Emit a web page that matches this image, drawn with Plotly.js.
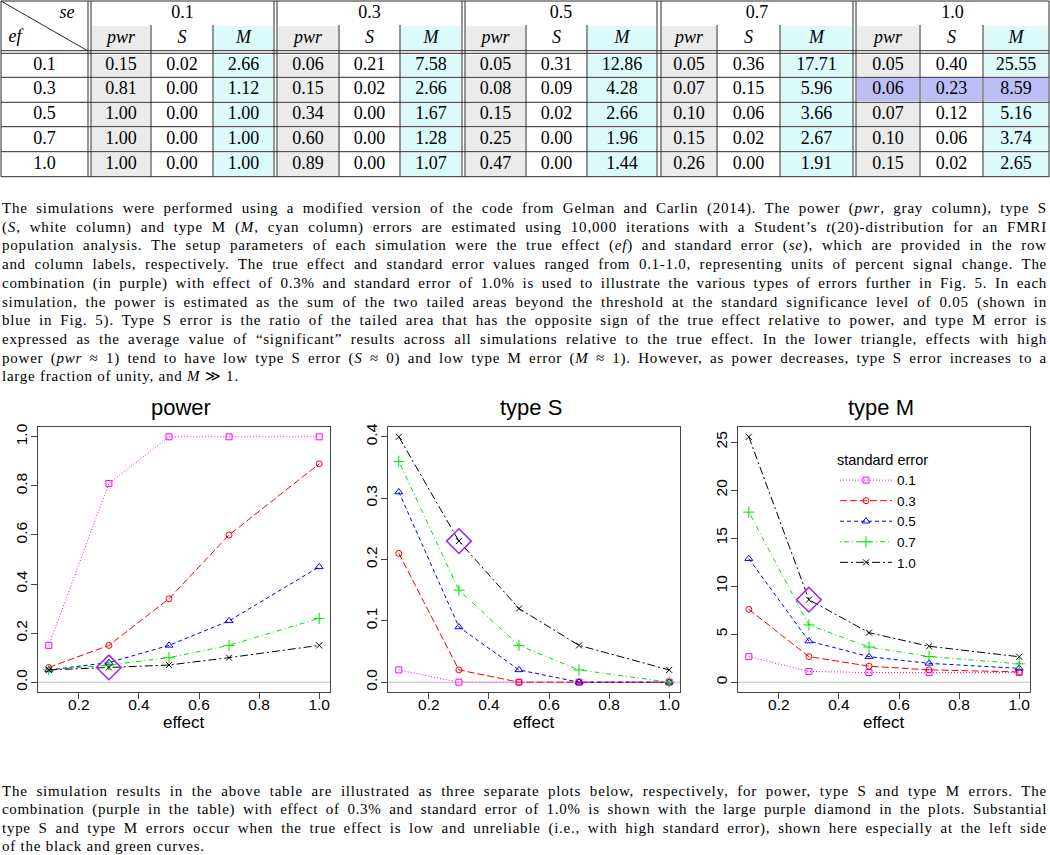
<!DOCTYPE html>
<html>
<head>
<meta charset="utf-8">
<script src="https://cdn.plot.ly/plotly-3.0.1.min.js"></script>
<style>
  body { margin: 0; background: #fff; }
  #wrap { position: relative; width: 1050px; height: 855px; overflow: hidden; }
  #plot { position: absolute; left: 0; top: 0; width: 1050px; height: 855px; }
  .para { position: absolute; left: 2px; width: 1045px; font-family: "Liberation Serif", serif; font-size: 15px; color: #000; }
  .ln { display: block; width: 1045px; text-align: justify; text-align-last: justify; white-space: nowrap; }
  .ln.last { text-align-last: left; }
  #p1 .ln { height: 18.72px; line-height: 18.72px; }
  #p2 .ln { height: 18.33px; line-height: 18.33px; }
</style>
</head>
<body>
<div id="wrap">
  <div id="plot"></div>
  <div class="para" id="p1" style="top:199px">
    <div class="ln"><span>The simulations were performed using a modified version of the code from Gelman and Carlin (2014). The power (<i>pwr</i>, gray column), type S</span></div>
    <div class="ln"><span>(<i>S</i>, white column) and type M (<i>M</i>, cyan column) errors are estimated using 10,000 iterations with a Student’s <i>t</i>(20)-distribution for an FMRI</span></div>
    <div class="ln"><span>population analysis. The setup parameters of each simulation were the true effect (<i>ef</i>) and standard error (<i>se</i>), which are provided in the row</span></div>
    <div class="ln"><span>and column labels, respectively. The true effect and standard error values ranged from 0.1-1.0, representing units of percent signal change. The</span></div>
    <div class="ln"><span>combination (in purple) with effect of 0.3% and standard error of 1.0% is used to illustrate the various types of errors further in Fig. 5. In each</span></div>
    <div class="ln"><span>simulation, the power is estimated as the sum of the two tailed areas beyond the threshold at the standard significance level of 0.05 (shown in</span></div>
    <div class="ln"><span>blue in Fig. 5). Type S error is the ratio of the tailed area that has the opposite sign of the true effect relative to power, and type M error is</span></div>
    <div class="ln"><span>expressed as the average value of “significant” results across all simulations relative to the true effect. In the lower triangle, effects with high</span></div>
    <div class="ln"><span>power (<i>pwr</i> ≈ 1) tend to have low type S error (<i>S</i> ≈ 0) and low type M error (<i>M</i> ≈ 1). However, as power decreases, type S error increases to a</span></div>
    <div class="ln last"><span>large fraction of unity, and <i>M</i> ≫ 1.</span></div>
  </div>
  <div class="para" id="p2" style="top:782px">
    <div class="ln"><span>The simulation results in the above table are illustrated as three separate plots below, respectively, for power, type S and type M errors. The</span></div>
    <div class="ln"><span>combination (purple in the table) with effect of 0.3% and standard error of 1.0% is shown with the large purple diamond in the plots. Substantial</span></div>
    <div class="ln"><span>type S and type M errors occur when the true effect is low and unreliable (i.e., with high standard error), shown here especially at the left side</span></div>
    <div class="ln last"><span>of the black and green curves.</span></div>
  </div>
</div>
<script>
// ---------------- DATA ----------------
const effects  = [0.1, 0.3, 0.5, 0.7, 1.0];
const efLabels = ['0.1', '0.3', '0.5', '0.7', '1.0'];
const seLabels = ['0.1', '0.3', '0.5', '0.7', '1.0'];
const colHeads = ['pwr', 'S', 'M'];
// values indexed [standard error][effect]
const power = [
  [0.15, 0.81, 1.00, 1.00, 1.00],
  [0.06, 0.15, 0.34, 0.60, 0.89],
  [0.05, 0.08, 0.15, 0.25, 0.47],
  [0.05, 0.07, 0.10, 0.15, 0.26],
  [0.05, 0.06, 0.07, 0.10, 0.15]
];
const typeS = [
  [0.02, 0.00, 0.00, 0.00, 0.00],
  [0.21, 0.02, 0.00, 0.00, 0.00],
  [0.31, 0.09, 0.02, 0.00, 0.00],
  [0.36, 0.15, 0.06, 0.02, 0.00],
  [0.40, 0.23, 0.12, 0.06, 0.02]
];
const typeM = [
  [2.66, 1.12, 1.00, 1.00, 1.00],
  [7.58, 2.66, 1.67, 1.28, 1.07],
  [12.86, 4.28, 2.66, 1.96, 1.44],
  [17.71, 5.96, 3.66, 2.67, 1.91],
  [25.55, 8.59, 5.16, 3.74, 2.65]
];
const highlightSe = 4;   // se = 1.0
const highlightEf = 1;   // ef = 0.3
const plotTitles = ['power', 'type S', 'type M'];

(function () {
// ---------------- STYLE / GEOMETRY ----------------
const W = 1050, H = 855;
const serif = 'Liberation Serif, Times New Roman, serif';
const sans = 'Liberation Sans, Arial, sans-serif';
const seColors = ['#FF00FF', '#FF0000', '#0000FF', '#00E000', '#000000'];
const seDash = ['1px,2px', '7px,3px', '4px,3px', '1px,3px,5px,3px', '8px,3px,2px,3px'];
const seSymbols = ['square-open', 'circle-open', 'triangle-up-open', 'cross-thin-open', 'x-thin-open'];
const seSizes = [6, 6, 7, 8, 6];
const cellColors = { white: '#FFFFFF', gray: '#EBEBEB', cyan: '#DCFAFA', purple: '#BDBDF5' };

// table geometry in pixel units (table axis spans pixels 0..1050 x 0..180)
const groupEdges = [[91,151,213,274],[277,339,400,462],[465,526,587,657],[661,717,780,853],[856,920,983,1049]];
const labelCol = [1, 88];
const rowEdges = [53.5, 77.3, 102.3, 126.7, 151.7, 176.7];
const headRow1 = [1, 25], headRow2 = [25, 51];
const tableH = 180;

// ---------------- TABLE ----------------
const traces = [];
const xEdges = [];
groupEdges.forEach(g => g.forEach(e => xEdges.push(e)));
const yEdges = [headRow2[0], headRow2[1], rowEdges[0]].concat(rowEdges.slice(1));
// z codes: 0 white, 1 gray, 2 cyan, 3 purple
const baseCodes = [1, 0, 2];
function rowCodes(rowIdx) { // rowIdx: -1 header, null gap, else effect index
  const r = [];
  groupEdges.forEach((g, gi) => {
    for (let c = 0; c < 3; c++) {
      if (rowIdx === null) r.push(null);
      else if (rowIdx === highlightEf && gi === highlightSe) r.push(3);
      else r.push(baseCodes[c]);
    }
    if (gi < groupEdges.length - 1) r.push(null);
  });
  return r;
}
const z = [rowCodes(-1), rowCodes(null)];
efLabels.forEach((_, i) => z.push(rowCodes(i)));
traces.push({
  type: 'heatmap', x: xEdges, y: yEdges, z: z, xaxis: 'x4', yaxis: 'y4',
  zmin: 0, zmax: 3, showscale: false, hoverinfo: 'skip', xgap: 2, ygap: 2,
  colorscale: [[0, cellColors.white], [0.1667, cellColors.white], [0.1667, cellColors.gray], [0.5, cellColors.gray],
               [0.5, cellColors.cyan], [0.8333, cellColors.cyan], [0.8333, cellColors.purple], [1, cellColors.purple]]
});

const tx = [], ty = [], tt = [];
const mid = (a, b) => (a + b) / 2;
const rowMid = i => mid(rowEdges[i], rowEdges[i + 1]);
tx.push(67); ty.push(13); tt.push('<i>se</i>');
tx.push(15); ty.push(37); tt.push('<i>ef</i>');
efLabels.forEach((lab, i) => { tx.push(mid(labelCol[0], labelCol[1])); ty.push(rowMid(i)); tt.push(lab); });
const metrics = [power, typeS, typeM];
groupEdges.forEach((g, gi) => {
  tx.push(mid(g[0], g[3])); ty.push(mid(headRow1[0], headRow1[1]) + 0.5); tt.push(seLabels[gi]);
  for (let c = 0; c < 3; c++) {
    const cx = mid(g[c], g[c + 1]);
    tx.push(cx); ty.push(mid(headRow2[0], headRow2[1])); tt.push('<i>' + colHeads[c] + '</i>');
    efLabels.forEach((_, ei) => {
      tx.push(cx); ty.push(rowMid(ei)); tt.push(metrics[c][gi][ei].toFixed(2));
    });
  }
});
traces.push({
  type: 'scatter', mode: 'text', x: tx, y: ty, text: tt, xaxis: 'x4', yaxis: 'y4',
  textposition: 'middle center', hoverinfo: 'skip', showlegend: false,
  textfont: { family: serif, size: 18, color: '#000' }
});

const shapes = [];
const tl = (x0, y0, x1, y1, w) => shapes.push({ type: 'line', xref: 'x4', yref: 'y4', x0, y0, x1, y1, line: { color: '#2a2a2a', width: w || 1 } });
const tTop = 1, tBot = rowEdges[rowEdges.length - 1], tLeft = 1, tRight = 1049;
tl(tLeft, tTop, tRight, tTop); tl(tLeft, tBot, tRight, tBot);
tl(tLeft, tTop, tLeft, tBot); tl(tRight, tTop, tRight, tBot);
tl(tLeft, 50.7, tRight, 50.7); tl(tLeft, 53.3, tRight, 53.3);
rowEdges.slice(1, -1).forEach(y => tl(tLeft, y, tRight, y));
tl(88, tTop, 88, tBot); tl(91, tTop, 91, tBot);
groupEdges.forEach((g, gi) => {
  if (gi < groupEdges.length - 1) { tl(g[3], tTop, g[3], tBot); tl(groupEdges[gi + 1][0], tTop, groupEdges[gi + 1][0], tBot); }
  tl(g[1], headRow2[0], g[1], tBot); tl(g[2], headRow2[0], g[2], tBot);
});
tl(1, 1, 88, 51);

// ---------------- PLOTS ----------------
const plotX = [[38, 330], [388, 680], [738, 1030]];
const plotY = [427, 692];
const yRanges = [[-0.04, 1.04], [-0.016, 0.416], [-1.022, 26.572]];
const yTicks = [[0, 0.2, 0.4, 0.6, 0.8, 1.0], [0, 0.1, 0.2, 0.3, 0.4], [0, 5, 10, 15, 20, 25]];
const yFmt = ['.1f', '.1f', 'd'];
const annotations = [];
const layout = {
  width: W, height: H, margin: { l: 0, r: 0, t: 0, b: 0 },
  paper_bgcolor: '#fff', plot_bgcolor: 'rgba(0,0,0,0)', showlegend: true,
  xaxis4: { domain: [0, 1], range: [0, W], visible: false, fixedrange: true },
  yaxis4: { domain: [1 - tableH / H, 1], range: [tableH, 0], visible: false, fixedrange: true },
  legend: {
    x: 835 / W, y: 1 - 446 / H, xanchor: 'left', yanchor: 'top', bgcolor: 'rgba(0,0,0,0)',
    font: { family: sans, size: 13.5, color: '#000' }, itemwidth: 52, tracegroupgap: 0,
    title: { text: 'standard error', font: { family: sans, size: 14.5, color: '#000' } }
  },
  shapes: shapes, annotations: annotations
};

metrics.forEach((m, k) => {
  const ax = k === 0 ? '' : String(k + 1);
  const xa = 'xaxis' + ax, ya = 'yaxis' + ax;
  layout[xa] = {
    domain: [plotX[k][0] / W, plotX[k][1] / W], range: [0.064, 1.036], anchor: 'y' + ax,
    tickvals: [0.2, 0.4, 0.6, 0.8, 1.0], tickformat: '.1f', ticks: 'outside', ticklen: 6, tickcolor: '#444',
    ticklabelstandoff: -8,
    tickfont: { family: sans, size: 15.5, color: '#000' }, showgrid: false, zeroline: false,
    showline: true, mirror: true, linecolor: '#444', linewidth: 1, fixedrange: true
  };
  layout[ya] = {
    domain: [1 - plotY[1] / H, 1 - plotY[0] / H], range: yRanges[k], anchor: 'x' + ax,
    tickvals: yTicks[k], tickformat: yFmt[k], ticks: 'outside', ticklen: 6, tickcolor: '#444', tickangle: -90,
    ticklabelstandoff: -2,
    tickfont: { family: sans, size: 15.5, color: '#000' }, showgrid: false, zeroline: false,
    showline: true, mirror: true, linecolor: '#444', linewidth: 1, fixedrange: true
  };
  shapes.push({ type: 'line', xref: 'x' + ax + ' domain', yref: 'y' + ax, x0: 0, x1: 1, y0: 0, y1: 0,
                line: { color: '#BEBEBE', width: 1 }, layer: 'below' });
  const cx = (plotX[k][0] + plotX[k][1]) / 2 / W;
  annotations.push({ xref: 'paper', yref: 'paper', x: cx - 0.003, y: 1 - 408 / H, text: plotTitles[k], showarrow: false,
                     xanchor: 'center', yanchor: 'middle', font: { family: sans, size: 22, color: '#000' } });
  annotations.push({ xref: 'paper', yref: 'paper', x: cx, y: 1 - 722 / H, text: 'effect', showarrow: false,
                     xanchor: 'center', yanchor: 'middle', font: { family: sans, size: 17, color: '#000' } });
  seLabels.forEach((se, i) => {
    traces.push({
      type: 'scatter', mode: 'lines+markers', x: effects, y: m[i], name: se, xaxis: 'x' + ax, yaxis: 'y' + ax,
      legendgroup: se, showlegend: k === 2, hoverinfo: 'x+y',
      line: { color: seColors[i], width: 1, dash: seDash[i] },
      marker: { symbol: seSymbols[i], size: seSizes[i], color: seColors[i], line: { color: seColors[i], width: 1 } }
    });
  });
  traces.push({
    type: 'scatter', mode: 'markers', x: [effects[highlightEf]], y: [m[highlightSe][highlightEf]],
    xaxis: 'x' + ax, yaxis: 'y' + ax, showlegend: false, hoverinfo: 'x+y',
    marker: { symbol: 'diamond-open', size: 19, color: '#A020F0', line: { color: '#A020F0', width: 1.5 } }
  });
});

Plotly.newPlot('plot', traces, layout, { staticPlot: true, displayModeBar: false });

// ---------------- fit paragraph lines (justified like the typeset caption) ----------------
function fitLines() {
  const lines = document.querySelectorAll('.ln');
  const Wl = 1045; const sps = [];
  lines.forEach(el => {
    if (el.classList.contains('last')) return;
    const sp = el.firstElementChild;
    el.style.letterSpacing = '0px'; el.style.textAlignLast = 'left';
    const w = sp.getBoundingClientRect().width;
    const n = sp.textContent.length;
    const ls = 0.55 * (Wl - w) / n;
    el.style.letterSpacing = ls + 'px'; el.style.textAlignLast = '';
    sps.push(ls);
  });
  const avg = sps.reduce((a, b) => a + b, 0) / sps.length;
  document.querySelectorAll('.ln.last').forEach(el => { el.style.letterSpacing = avg + 'px'; });
}
fitLines();
})();
</script>
</body>
</html>
